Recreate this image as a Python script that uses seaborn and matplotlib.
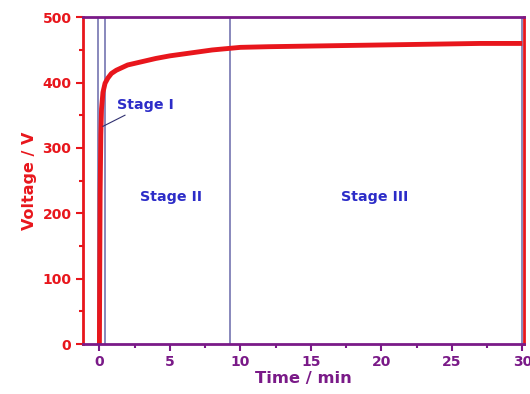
import matplotlib
matplotlib.use("Agg")
import matplotlib.pyplot as plt
from matplotlib.ticker import MultipleLocator
import seaborn as sns
import pandas as pd

# Data
time_min = [0.0, 0.02, 0.05, 0.1, 0.15, 0.25, 0.4, 0.6, 0.85, 1.2, 1.6, 2.0,
            3.0, 4.0, 5.0, 6.0, 7.0, 8.0, 9.0, 10.0, 12.0, 15.0, 18.0, 21.0,
            24.0, 27.0, 30.0]
voltage_v = [0, 100, 230, 320, 360, 385, 399, 407, 414, 419, 423, 427,
             432, 437, 441, 444, 447, 450, 452, 454, 455, 456, 457, 458,
             459, 460, 460]
stage_bounds = [-0.11, 0.43, 9.29, 30.0]
stage_labels = ["Stage I", "Stage II", "Stage III"]
x_ticks = [0, 5, 10, 15, 20, 25, 30]
y_ticks = [0, 100, 200, 300, 400, 500]

RED = "#e8161c"
PURPLE = "#7a1a88"
BLUE = "#2c2cc8"
LINE = "#7474b0"

sns.set_style("white")
plt.rcParams["font.family"] = ["DejaVu Sans"]
plt.rcParams["font.weight"] = "bold"

fig = plt.figure(figsize=(5.3, 3.94), dpi=100)
ax = fig.add_axes([82.5 / 530, 1 - 344 / 394, (524 - 82.5) / 530, (344 - 17.3) / 394])

for b in stage_bounds:
    ax.axvline(b, color=LINE, lw=1.2, zorder=1)

df = pd.DataFrame({"t": time_min, "v": voltage_v})
sns.lineplot(data=df, x="t", y="v", ax=ax, color=RED, lw=3.5, zorder=3,
             solid_capstyle="butt")

ax.set_xlim(-1.2, 30.12)
ax.set_ylim(0, 500)
ax.set_xticks(x_ticks)
ax.set_yticks(y_ticks)
ax.xaxis.set_minor_locator(MultipleLocator(2.5))
ax.yaxis.set_minor_locator(MultipleLocator(50))

ax.tick_params(axis="x", which="major", direction="out", length=5, width=1.5,
               color=PURPLE, labelcolor=PURPLE, labelsize=10, pad=3, bottom=True)
ax.tick_params(axis="x", which="minor", direction="out", length=3, width=1.5,
               color=PURPLE, bottom=True)
ax.tick_params(axis="y", which="major", direction="out", length=5, width=1.5,
               color=RED, labelcolor=RED, labelsize=10, pad=3, left=True)
ax.tick_params(axis="y", which="minor", direction="out", length=3, width=1.5,
               color=RED, left=True)
for lab in ax.get_xticklabels() + ax.get_yticklabels():
    lab.set_fontweight("bold")

for side in ["left", "right"]:
    ax.spines[side].set_color(RED)
    ax.spines[side].set_linewidth(2)
for side in ["top", "bottom"]:
    ax.spines[side].set_color(PURPLE)
    ax.spines[side].set_linewidth(2)
for s in ax.spines.values():
    s.set_visible(True)
    s.set_zorder(5)

ax.set_xlabel("Time / min", color=PURPLE, fontsize=11.8, fontweight="bold", labelpad=1)
ax.set_ylabel("Voltage / V", color=RED, fontsize=11.5, fontweight="bold", labelpad=4)

ax.annotate(stage_labels[0], xy=(0.24, 333), xytext=(1.25, 366),
            color=BLUE, fontsize=10.3, fontweight="bold", ha="left", va="center",
            arrowprops=dict(arrowstyle="-", color="#303070", lw=0.8,
                            shrinkA=0, shrinkB=0))
ax.text(5.1, 225, stage_labels[1], color=BLUE, fontsize=10.3, fontweight="bold",
        ha="center", va="center")
ax.text(19.5, 225, stage_labels[2], color=BLUE, fontsize=10.3, fontweight="bold",
        ha="center", va="center")

fig.savefig("out.png", dpi=100)
